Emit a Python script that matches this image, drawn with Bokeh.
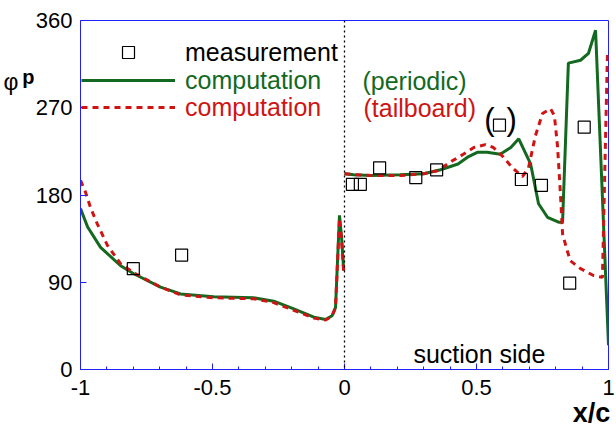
from bokeh.plotting import figure
from bokeh.models import (Legend, LegendItem, Label, Span, FixedTicker, Range1d, LinearAxis)
from bokeh.embed import file_html
from bokeh.resources import INLINE

# ---- data ----
meas_x = [-0.80, -0.617, 0.03, 0.06, 0.133, 0.27, 0.349, 0.587, 0.67, 0.746, 0.853, 0.908]
meas_y = [104, 118, 191, 191, 208, 198, 206, 252, 196, 190, 89, 250]

per_ps_x = [-1.000, -0.973, -0.924, -0.848, -0.800, -0.697, -0.621, -0.496, -0.345, -0.268,
            -0.192, -0.116, -0.072, -0.047, -0.034, -0.019, -0.011, -0.003]
per_ps_y = [166, 147, 126, 107, 99, 85, 78, 75, 74, 70.5, 62.5, 54, 51.5, 55.5, 64, 159, 136, 102]
per_ss_x = [0.000, 0.035, 0.100, 0.210, 0.300, 0.364, 0.430, 0.466, 0.503, 0.540, 0.590, 0.630,
            0.660, 0.705, 0.735, 0.769, 0.811, 0.826, 0.848, 0.894, 0.924, 0.951, 1.000]
per_ss_y = [202, 201, 200, 201, 202, 206, 212, 219, 224, 224, 222, 229,
            238, 212, 171, 157, 152, 152, 316, 319, 326, 350, 25]

tb_ps_x = [-1.000, -0.981, -0.962, -0.936, -0.898, -0.848, -0.800, -0.697, -0.621, -0.496,
           -0.345, -0.268, -0.192, -0.116, -0.072, -0.047, -0.034, -0.019, -0.011, -0.003]
tb_ps_y = [195, 183, 167, 150, 128, 109, 100, 85, 77, 74, 73, 69, 61, 53, 51, 55, 64, 156, 134, 100]
tb_ss_x = [0.000, 0.035, 0.100, 0.210, 0.300, 0.352, 0.413, 0.450, 0.490, 0.534, 0.564, 0.602,
           0.636, 0.674, 0.697, 0.723, 0.750, 0.780, 0.795, 0.807, 0.818, 0.826, 0.843, 0.856,
           0.894, 0.943, 0.977, 0.996]
tb_ss_y = [202, 201, 200, 200, 202, 205, 216, 222, 229, 232, 229, 219,
           208, 199, 208, 241, 264, 269, 262, 230, 181, 140, 123, 112,
           104, 97, 95, 326]

x_ticks = [-1, -0.5, 0, 0.5, 1]
x_tick_labels = {-1: "-1", -0.5: "-0.5", 0: "0", 0.5: "0.5", 1: "1"}
y_ticks = [0, 90, 180, 270, 360]

GREEN = "#12691f"
RED = "#cf1414"
BLUE = "#2020ff"
FONT = "Liberation Sans"

p = figure(width=616, height=430, output_backend="svg", toolbar_location=None,
           x_range=Range1d(-1, 1), y_range=Range1d(0, 360),
           min_border_left=80, min_border_right=8, min_border_top=20, min_border_bottom=61)
p.grid.visible = False
p.outline_line_color = BLUE
p.outline_line_width = 1
p.background_fill_color = "white"
p.border_fill_color = "white"

# axes
p.xaxis.ticker = FixedTicker(ticks=x_ticks,
                             minor_ticks=[-0.9, -0.8, -0.7, -0.6, -0.4, -0.3, -0.2, -0.1,
                                          0.1, 0.2, 0.3, 0.4, 0.6, 0.7, 0.8, 0.9])
p.xaxis.major_label_overrides = x_tick_labels
p.yaxis.ticker = FixedTicker(ticks=y_ticks)
for ax in (p.xaxis[0], p.yaxis[0]):
    ax.axis_line_color = BLUE
    ax.major_tick_line_color = BLUE
    ax.minor_tick_line_color = BLUE
    ax.major_tick_in = 6
    ax.major_tick_out = 0
    ax.minor_tick_in = 3
    ax.minor_tick_out = 0
    ax.major_label_text_font = FONT
    ax.major_label_text_font_size = "22px"
    ax.major_label_text_color = "black"
p.yaxis.minor_tick_line_color = None
p.xaxis.major_label_standoff = 10
p.yaxis.major_label_standoff = 8

# axis titles drawn as single-tick label-only axes (text outside the frame)
def title_axis(tick, label, size, style, standoff):
    return LinearAxis(ticker=FixedTicker(ticks=[tick]), major_label_overrides={tick: label},
                      axis_line_color=None, major_tick_line_color=None,
                      minor_tick_line_color=None, major_tick_in=0, major_tick_out=0,
                      minor_tick_in=0, minor_tick_out=0,
                      major_label_text_font=FONT, major_label_text_font_size=size,
                      major_label_text_font_style=style, major_label_text_color="black",
                      major_label_standoff=standoff)

p.add_layout(title_axis(0.936, "x/c", "27px", "bold", 0), "below")
p.add_layout(title_axis(302, "p", "20px", "bold", -2), "left")
p.add_layout(title_axis(297, "φ", "23px", "normal", 1), "left")

# x = 0 dotted line
p.add_layout(Span(location=0, dimension="height", line_color="black",
                  line_width=1.3, line_dash="2 3"))

# computation lines
g1 = p.line(per_ps_x, per_ps_y, line_color=GREEN, line_width=3)
p.line(per_ss_x, per_ss_y, line_color=GREEN, line_width=3)
r1 = p.line(tb_ps_x, tb_ps_y, line_color=RED, line_width=3, line_dash="6 5")
p.line(tb_ss_x, tb_ss_y, line_color=RED, line_width=3, line_dash="6 5")

# measurement
m1 = p.scatter(meas_x, meas_y, marker="square", size=12, fill_color=None,
               line_color="black", line_width=1.2)

# legends (one per item so each label gets its own colour)
def make_legend(label, rend, color, vy):
    return Legend(items=[LegendItem(label=label, renderers=[rend])],
                  location=(1, vy), orientation="vertical",
                  glyph_width=94, glyph_height=30, label_height=30, label_standoff=10,
                  label_text_font=FONT, label_text_font_size="25px",
                  label_text_color=color, padding=0, margin=0, spacing=0,
                  border_line_alpha=0, background_fill_alpha=0)

p.add_layout(make_legend("measurement", m1, "black", 302))
p.add_layout(make_legend("computation", g1, GREEN, 274))
p.add_layout(make_legend("computation", r1, RED, 247))

p.add_layout(Label(x=0.068, y=298, text="(periodic)", text_font=FONT,
                   text_font_size="25px", text_color=GREEN, text_baseline="middle"))
p.add_layout(Label(x=0.072, y=270, text="(tailboard)", text_font=FONT,
                   text_font_size="25px", text_color=RED, text_baseline="middle"))

# parentheses around the questionable point
p.add_layout(Label(x=0.549, y=258, text="(", text_font=FONT, text_font_size="31px",
                   text_color="black", text_align="center", text_baseline="middle"))
p.add_layout(Label(x=0.633, y=258, text=")", text_font=FONT, text_font_size="31px",
                   text_color="black", text_align="center", text_baseline="middle"))

p.add_layout(Label(x=0.261, y=16.5, text="suction side", text_font=FONT,
                   text_font_size="25px", text_color="black", text_baseline="middle"))

open("out.html", "w").write(file_html(p, INLINE))
